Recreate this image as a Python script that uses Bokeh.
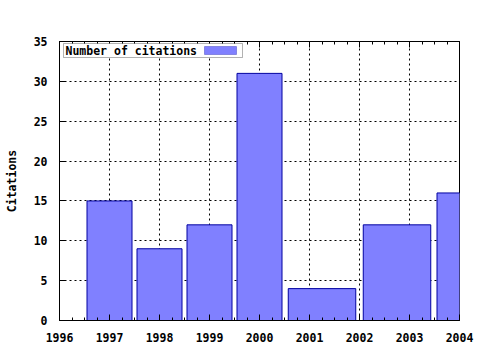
from bokeh.plotting import figure
from bokeh.models import Range1d, SingleIntervalTicker, LinearAxis, BoxAnnotation, Label, BasicTickFormatter
from bokeh.embed import file_html
from bokeh.resources import INLINE

years = [1997, 1998, 1999, 2000, 2001, 2003, 2004]
citations = [15, 9, 12, 31, 4, 12, 16]
x_ticks_interval = 1
y_ticks_interval = 5
series_name = "Number of citations"
y_label = "Citations"

# gnuplot-style boxes: default width spans midpoints to neighbours, relative boxwidth 0.9
lefts, rights = [], []
n = len(years)
for i, x in enumerate(years):
    lo = (years[i - 1] + x) / 2 if i > 0 else x - (years[i + 1] - x) / 2
    hi = (years[i + 1] + x) / 2 if i < n - 1 else x + (x - years[i - 1]) / 2
    c = (lo + hi) / 2
    w = 0.9 * (hi - lo)
    lefts.append(c - w / 2)
    rights.append(c + w / 2)

FONT = "DejaVu Sans Mono"
FS = "11.5px"

p = figure(width=480, height=350, output_backend="svg", toolbar_location=None,
           x_range=Range1d(1996, 2004), y_range=Range1d(0, 35),
           min_border_left=59, min_border_right=21, min_border_top=41, min_border_bottom=30,
           background_fill_color="white", border_fill_color="white")
p.outline_line_color = "black"
p.outline_line_width = 1

p.quad(left=lefts, right=rights, bottom=0, top=citations,
       fill_color="#8080ff", line_color="#0000a0", line_width=1)

xt = SingleIntervalTicker(interval=x_ticks_interval, num_minor_ticks=4)
yt = SingleIntervalTicker(interval=y_ticks_interval, num_minor_ticks=0)
p.xaxis.ticker = xt
p.yaxis.ticker = yt
p.xaxis.formatter = BasicTickFormatter(use_scientific=False)

for ax in [p.xaxis[0], p.yaxis[0]]:
    ax.major_tick_in = 6
    ax.major_tick_out = 0
    ax.minor_tick_in = 3
    ax.minor_tick_out = 0
    ax.axis_line_color = "black"
    ax.major_tick_line_color = "black"
    ax.minor_tick_line_color = "black"
    ax.major_label_text_font = FONT
    ax.major_label_text_font_style = "bold"
    ax.major_label_text_font_size = FS
    ax.major_label_text_color = "black"
p.xaxis.major_label_standoff = 12
p.yaxis.major_label_standoff = 12
p.yaxis.minor_tick_line_color = None
p.yaxis.axis_label = y_label
p.yaxis.axis_label_text_font = FONT
p.yaxis.axis_label_text_font_style = "bold"
p.yaxis.axis_label_text_font_size = FS
p.yaxis.axis_label_text_color = "black"
p.yaxis.axis_label_standoff = 12

top = LinearAxis(ticker=xt, major_label_text_font_size="0px", major_tick_in=6, major_tick_out=0,
                 minor_tick_in=3, minor_tick_out=0, axis_line_color="black",
                 major_label_text_color=None)
p.add_layout(top, "above")

p.xgrid.ticker = xt
p.ygrid.ticker = yt
for g in [p.xgrid[0], p.ygrid[0]]:
    g.grid_line_color = "black"
    g.grid_line_dash = "2 3"
    g.grid_line_width = 1

# legend (text then swatch, gnuplot style)
p.add_layout(BoxAnnotation(left=4, right=183, bottom=263, top=277,
                           left_units="screen", right_units="screen",
                           bottom_units="screen", top_units="screen",
                           fill_color="white", fill_alpha=1, line_color="black", line_width=1))
p.add_layout(Label(x=6, y=270, x_units="screen", y_units="screen", text=series_name,
                   text_font=FONT, text_font_style="bold", text_font_size=FS,
                   text_baseline="middle", text_color="black"))
p.add_layout(BoxAnnotation(left=145, right=177, bottom=266, top=274,
                           left_units="screen", right_units="screen",
                           bottom_units="screen", top_units="screen",
                           fill_color="#8080ff", fill_alpha=1, line_color="#0000a0", line_width=1))

open("out.html", "w").write(file_html(p, INLINE))
